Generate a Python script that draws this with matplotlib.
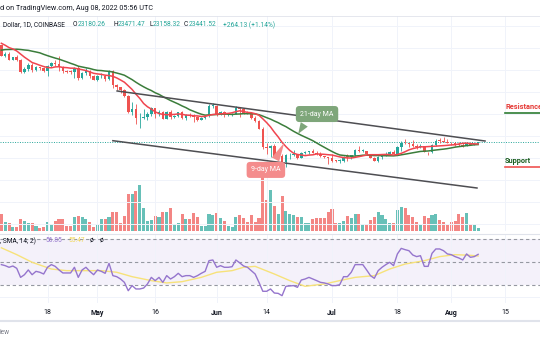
import matplotlib
matplotlib.use("Agg")
import matplotlib.pyplot as plt
import numpy as np
import pandas as pd

plt.rcParams['font.family'] = ['Roboto', 'DejaVu Sans']

W, H = 540, 340

# BTC/USD daily candles, thousands of USD. Day 0 = Apr 18 2022, first candle Apr 6, last Aug 8
history_closes = [39.28, 41.12, 40.92, 41.76, 42.20, 41.26, 41.00, 42.36, 42.89, 43.96, 44.33,
                  44.52, 46.82, 47.13, 47.45, 47.06, 45.53, 46.28, 45.81, 46.40, 46.58, 45.50]

opens = [45.50, 43.17, 43.44, 42.25, 42.75, 42.16, 39.53, 40.08, 41.15, 39.94, 40.55, 40.40, 39.70,
         40.80, 41.50, 41.37, 40.48, 39.71, 39.47, 39.45, 40.43, 38.12, 39.24, 39.74, 38.60,
         37.64, 38.47, 38.53, 37.75, 39.69, 36.55, 36.01, 35.47, 34.06, 30.30, 31.02, 28.94, 29.03,
         29.28, 29.86, 31.30, 29.86, 30.42, 28.72, 30.29, 29.20, 29.43, 30.28, 29.10, 29.65, 29.54,
         29.20, 28.62, 29.01, 29.45, 31.73,
         31.79, 29.80, 30.45, 29.70, 29.86, 29.90, 31.37, 31.13, 30.20, 30.11, 29.08, 28.42, 26.58,
         22.49, 22.14, 22.58, 20.38, 20.47, 19.01, 20.55, 20.57, 20.72, 19.97, 21.10, 21.23, 21.50,
         21.03, 20.73, 20.28, 20.10,
         19.93, 19.30, 19.25, 19.30, 20.23, 20.19, 20.55, 21.62, 21.59, 21.59, 20.85, 19.96, 19.33,
         20.20, 20.57, 20.83, 21.19, 20.78, 22.47, 23.39, 23.23, 23.16, 22.68, 22.45, 22.58, 21.31,
         21.25, 22.95, 23.85, 23.78, 23.64,
         23.30, 23.27, 22.99, 22.82, 22.62, 23.31, 22.96, 23.18026]

highs = [45.51, 43.90, 43.97, 42.80, 43.43, 42.42, 40.69, 41.56, 41.50, 40.86, 40.70, 40.60, 41.10,
         41.76, 42.20, 42.98, 40.80, 39.98, 39.93, 40.62, 40.80, 39.46, 40.37, 39.93, 38.80,
         38.68, 39.17, 38.63, 39.97, 39.84, 36.65, 36.13, 35.50, 34.24, 32.66, 32.19, 30.03, 31.08,
         30.34, 31.42, 31.31, 30.80, 30.70, 30.54, 30.77, 29.62, 30.45, 30.66, 29.84, 30.20, 29.86,
         29.38, 29.20, 29.55, 32.20, 32.38,
         31.96, 30.66, 30.68, 29.96, 30.15, 31.71, 31.55, 31.31, 30.68, 30.36, 29.45, 28.55, 26.90,
         23.35, 22.80, 22.98, 21.35, 20.76, 20.80, 21.09, 21.72, 20.86, 21.20, 21.53, 21.60, 21.86,
         21.52, 21.18, 20.42, 20.17,
         20.87, 19.43, 19.65, 20.30, 20.73, 20.66, 21.84, 22.53, 21.95, 21.60, 20.86, 20.04, 20.25,
         20.87, 21.19, 21.56, 21.65, 22.72, 23.75, 24.28, 23.41, 24.00, 23.00, 22.99, 22.66, 21.35,
         23.10, 24.20, 24.44, 24.65, 24.17,
         23.50, 23.46, 23.65, 23.22, 23.47, 23.35, 23.40, 23.47147]

lows = [43.12, 42.75, 42.12, 42.13, 41.87, 39.20, 39.25, 39.57, 39.55, 39.77, 40.02, 39.56, 38.54,
        40.57, 40.82, 39.75, 39.18, 39.30, 39.00, 38.20, 37.70, 37.88, 38.88, 38.20, 37.60,
        37.40, 38.06, 37.51, 37.70, 35.85, 35.26, 34.77, 33.71, 30.04, 29.73, 27.70, 26.70, 28.72,
        28.63, 29.48, 29.09, 29.44, 28.68, 28.67, 28.73, 28.95, 29.25, 28.85, 28.65, 29.31, 28.02,
        28.26, 28.57, 28.80, 29.30, 31.24,
        29.34, 29.58, 29.28, 29.48, 29.51, 29.88, 29.22, 29.86, 29.95, 28.87, 28.10, 26.56, 21.93,
        20.85, 20.11, 20.25, 20.34, 17.62, 17.94, 19.67, 20.35, 19.78, 19.89, 20.77, 20.93, 21.00,
        20.51, 20.20, 19.85, 18.64,
        18.97, 18.98, 18.78, 19.05, 19.30, 19.78, 20.25, 21.20, 21.31, 20.66, 19.88, 19.24, 18.91,
        19.63, 20.39, 20.48, 20.76, 20.76, 21.58, 23.02, 22.35, 22.52, 21.96, 22.28, 21.27, 20.70,
        21.04, 22.60, 23.42, 23.50, 23.23,
        22.85, 22.67, 22.70, 22.43, 22.59, 22.93, 22.85, 23.15832]

closes = [43.17, 43.44, 42.25, 42.75, 42.16, 39.53, 40.08, 41.15, 39.94, 40.55, 40.40, 39.70, 40.80,
          41.50, 41.37, 40.48, 39.71, 39.47, 39.45, 40.43, 38.12, 39.24, 39.74, 38.60, 37.64,
          38.47, 38.53, 37.75, 39.69, 36.55, 36.01, 35.47, 34.06, 30.30, 31.02, 28.94, 29.03, 29.28,
          29.86, 31.30, 29.86, 30.42, 28.72, 30.29, 29.20, 29.43, 30.28, 29.10, 29.65, 29.54, 29.20,
          28.62, 29.01, 29.45, 31.73, 31.79,
          29.80, 30.45, 29.70, 29.86, 29.90, 31.37, 31.13, 30.20, 30.11, 29.08, 28.42, 26.58, 22.49,
          22.14, 22.58, 20.38, 20.47, 19.01, 20.55, 20.57, 20.72, 19.97, 21.10, 21.23, 21.50, 21.03,
          20.73, 20.28, 20.10, 19.93,
          19.30, 19.25, 19.30, 20.23, 20.19, 20.55, 21.62, 21.59, 21.59, 20.85, 19.96, 19.33, 20.20,
          20.57, 20.83, 21.19, 20.78, 22.47, 23.39, 23.23, 23.16, 22.68, 22.45, 22.58, 21.31, 21.25,
          22.95, 23.85, 23.78, 23.64, 23.30,
          23.27, 22.99, 22.82, 22.62, 23.31, 22.96, 23.18, 23.44152]

volume = [16.7, 9, 8.3, 4, 4.3, 12, 9.7, 8, 8, 5, 3.3, 4,
          9, 7.3, 10.3, 12, 11.7, 5.3, 4.7, 14, 14.7, 14, 11.7, 9.3, 4.3,
          6, 12, 12, 14.3, 19.3, 19.3, 7.7, 15, 36.7, 36.7, 40.3, 46.3, 23, 10, 11.3, 15, 14.3,
          19.3, 19.3, 23, 7, 8.3, 16.7, 11.7, 12, 18, 14.3, 5.3, 4.7, 16.7, 15.7,
          18, 12.7, 10, 5, 4.3, 13.7, 15.7, 13, 9.3, 15.7, 9, 12.7, 60, 31.3, 41, 25.3, 17.3, 35,
          19.7, 16.7, 16.3, 14.3, 14.3, 8.3, 7.7, 12, 12.7, 12.7, 13.3, 18.7,
          22.3, 7.7, 8.3, 10, 15.3, 12.7, 16.7, 16.7, 6.7, 6.7, 10.7, 14.3, 18.7, 16.3, 12.3, 8.3,
          8, 21.3, 23.7, 22.7, 15.7, 13.7, 8.7, 6, 15, 13.3, 16, 17.3, 11.3, 9, 6,
          9.3, 10, 16.7, 14, 18, 6.7, 6, 2.7]

rsi = [48.0, 47.1, 45.7, 46.8, 44.8, 37.0, 39.3, 43.4, 39.3, 42.2, 41.4, 39.9,
       45.7, 48.0, 46.5, 43.4, 40.8, 40.8, 40.8, 45.7, 37.0, 43.4, 45.7, 42.2, 39.3,
       43.4, 42.2, 40.5, 49.1, 38.5, 37.6, 35.6, 32.7, 25.5, 29.9, 27.0, 27.0, 27.8, 31.3, 37.0,
       34.2, 37.0, 32.7, 38.5, 35.6, 37.6, 40.5, 37.6, 38.5, 38.5, 37.0, 38.5, 40.5, 42.2, 51.4, 52.0,
       45.7, 47.1, 45.7, 45.7, 46.2, 52.0, 49.5, 46.8, 45.7, 42.8, 39.9, 32.7, 25.0, 25.0, 27.0,
       23.5, 23.2, 21.2, 29.3, 29.6, 29.9, 28.4, 34.7, 35.6, 37.0, 35.6, 34.2, 32.7, 32.2, 31.3,
       29.9, 29.9, 30.7, 37.6, 37.6, 41.4, 48.0, 48.0, 48.0, 43.4, 38.5, 36.2, 42.8, 45.7, 48.0,
       50.0, 47.1, 57.2, 62.0, 60.9, 60.0, 56.3, 54.9, 55.7, 46.5, 46.5, 57.7, 61.5, 61.5, 60.0, 57.2,
       56.6, 54.9, 53.7, 52.0, 57.2, 54.3, 54.9, 56.85]

rsi_ma_days = [-12, -8, -4, 1, 5, 9, 14, 18, 22, 27, 31, 35, 40, 44, 48, 51, 54, 59, 63, 67, 72,
               76, 80, 85, 89, 93, 98, 102, 106, 110, 112]
rsi_ma = [62.5, 56.6, 50.0, 44.2, 42.8, 42.8, 42.8, 41.4, 37.6, 34.2, 32.2, 33.3, 37.0, 41.4, 42.8,
          45.7, 46.5, 39.9, 34.2, 29.3, 31.3, 34.2, 37.0, 38.5, 44.2, 48.5, 51.4, 54.9, 56.6, 56.0, 55.47]

days = np.arange(-12, 113)

# hand drawn channel (day, price)
upper_trend_days = [18.1, 113.8]
upper_trend_price = [35.14, 23.77]
lower_trend_days = [17.0, 111.7]
lower_trend_price = [23.84, 13.09]

resistance_level = 30.14
support_level = 17.86
label_day = 119.0

tick_days = [0, 13, 28, 44, 57, 74, 91, 105, 119]
tick_labels = ['18', 'May', '16', 'Jun', '14', 'Jul', '18', 'Aug', '15']
month_labels = {'May', 'Jun', 'Jul', 'Aug'}

UP = '#26a69a'
DOWN = '#ef5350'
DARK = '#131722'
GRID = '#f0f3fa'
SEP = '#e0e3eb'

XLIM = (-12.354, 128.09)


def fy(px):
    return 1 - px / H


fig = plt.figure(figsize=(W / 100, H / 100), dpi=100)
fig.patch.set_facecolor('white')

# volume pane (behind the price pane)
vax = fig.add_axes([0, fy(231), 1, (231 - 16) / H])
vax.set_zorder(1)
vax.set_xlim(XLIM)
vax.set_ylim(0, 215)
o = np.array(opens)
c = np.array(closes)
up = c >= o
colors = np.where(up, UP, DOWN)
vax.bar(days, volume, width=0.8, color=colors, alpha=0.7, linewidth=0)
vax.set_xticks(tick_days)
vax.grid(axis='x', color=GRID, lw=0.7)
vax.tick_params(length=0, labelbottom=False, labelleft=False)
for s in vax.spines.values():
    s.set_visible(False)

# price pane
ax = fig.add_axes([0, fy(232), 1, (232 - 16) / H])
ax.set_zorder(2)
ax.patch.set_visible(False)
ax.set_xlim(XLIM)
ax.set_ylim(3.09, 52.18)
ax.set_yticks(np.arange(5, 55, 5))
ax.set_xticks([])
ax.grid(axis='y', color=GRID, lw=0.7)
ax.tick_params(length=0, labelleft=False)
for s in ax.spines.values():
    s.set_visible(False)

ax.axhline(closes[-1], color=UP, lw=0.7, ls=(0, (1, 1.5)), zorder=2)

all_closes = pd.Series(history_closes + closes)
ma9 = all_closes.rolling(9).mean().to_numpy()[-len(closes):]
ma21 = all_closes.rolling(21).mean().to_numpy()[-len(closes):]
ax.plot(days, ma21, color='#3b7d3b', lw=1.1, zorder=5)
ax.plot(days, ma9, color='#f0454f', lw=1.1, zorder=5)

ax.vlines(days, lows, highs, colors=colors, lw=0.6, zorder=3)
body = np.maximum(np.abs(c - o), 0.12)
ax.bar(days, body, bottom=np.minimum(o, c), width=0.66, color=colors, linewidth=0, zorder=4)

ax.plot(upper_trend_days, upper_trend_price, color='#4e4e52', lw=1.1, zorder=6)
ax.plot(lower_trend_days, lower_trend_price, color='#4e4e52', lw=1.1, zorder=6)

# callouts
ax.annotate('21-day MA', xy=(65.2, 25.4), xytext=(70.1, 29.9), ha='center', va='center',
            fontsize=5, color='white', zorder=8,
            bbox=dict(boxstyle='round,pad=0.65,rounding_size=0.5', fc='#7ea67a', ec='none'),
            arrowprops=dict(arrowstyle='wedge,tail_width=1.2', fc='#7ea67a', ec='none',
                            relpos=(0.25, 0.0), shrinkB=0))
ax.annotate('9-day MA', xy=(61.6, 23.4), xytext=(56.8, 17.2), ha='center', va='center',
            fontsize=5, color='white', zorder=8,
            bbox=dict(boxstyle='round,pad=0.65,rounding_size=0.5', fc='#f48c8c', ec='none'),
            arrowprops=dict(arrowstyle='wedge,tail_width=1.2', fc='#f48c8c', ec='none',
                            relpos=(0.7, 1.0), shrinkB=0))

ax.plot([label_day, XLIM[1]], [resistance_level] * 2, color='#2e7d32', lw=1.2, zorder=6)
ax.annotate('Resistance', xy=(label_day, resistance_level), xytext=(0, 1.2),
            textcoords='offset points', va='bottom', fontsize=5.3, weight='bold',
            color='#e53935', annotation_clip=False)
ax.plot([label_day, XLIM[1]], [support_level] * 2, color='#ef5350', lw=1.2, zorder=6)
ax.annotate('Support', xy=(label_day, support_level), xytext=(0, 1.5),
            textcoords='offset points', va='bottom', fontsize=5.3, weight='bold',
            color='#1b5e20', annotation_clip=False)

# RSI pane
rax = fig.add_axes([0, fy(303), 1, (303 - 234) / H])
rax.set_xlim(XLIM)
rax.set_ylim(14.9, 74.4)
rax.axhspan(30, 70, color='#7e57c2', alpha=0.08, lw=0)
for lvl in (70, 50, 30):
    rax.axhline(lvl, color='#9598a1', lw=0.8, ls=(0, (3, 2.5)))
rax.axhline(20, color=GRID, lw=0.7)
rax.plot(rsi_ma_days, rsi_ma, color='#f7e27a', lw=1.0)
rax.plot(days, rsi, color='#9575cd', lw=1.0)
rax.set_yticks([])
rax.set_xticks(tick_days)
rax.set_xticklabels(tick_labels)
rax.grid(axis='x', color=GRID, lw=0.7)
rax.tick_params(axis='x', length=0, pad=4, labelsize=5, labelcolor=DARK)
for lab in rax.get_xticklabels():
    if lab.get_text() in month_labels:
        lab.set_fontweight('bold')
for s in rax.spines.values():
    s.set_visible(False)
rax.spines['top'].set_visible(True)
rax.spines['top'].set_color(SEP)
rax.spines['top'].set_linewidth(0.8)

# header + legends
fig.add_artist(plt.Line2D([0, 1], [fy(16), fy(16)], color=SEP, lw=0.6))
fig.add_artist(plt.Line2D([0, 1], [fy(321), fy(321)], color=SEP, lw=1.5))
fig.text(0, fy(9), 'd on TradingView.com, Aug 08, 2022 05:56 UTC', fontsize=5.2,
         color=DARK, va='center')
head = [(3, 'Dollar, 1D, COINBASE', DARK), (73, 'O', DARK), (78, '23180.26', UP),
        (113, 'H', DARK), (118, '23471.47', UP), (149, 'L', DARK), (153, '23158.32', UP),
        (184, 'C', DARK), (189, '23441.52', UP), (223, '+264.13 (+1.14%)', UP)]
for x, s, col in head:
    fig.text(x / W, fy(25), s, fontsize=4.8, color=col, va='center')
fig.text(1 / W, fy(55), ', 0)', fontsize=4.8, color=DARK, va='center', zorder=0)
fig.text(18 / W, fy(55), '22863.90', fontsize=4.8, color='#3b7d3b', va='center', zorder=0)
fig.text(3 / W, fy(65), '0)', fontsize=4.8, color=DARK, va='center', zorder=0)
fig.text(13 / W, fy(65), '23100.87', fontsize=4.8, color='#f0454f', va='center', zorder=0)
rsi_head = [(0, ', SMA, 14, 2)', DARK), (45, '56.85', '#9575cd'), (68, '55.47', '#f2d95c'),
            (90, 'ø', DARK), (100, 'ø', DARK)]
for x, s, col in rsi_head:
    fig.text(x / W, fy(241), s, fontsize=4.8, color=col, va='center')
fig.text(0, fy(332), 'iew', fontsize=4.8, color='#787b86', va='center')

fig.savefig('out.png', dpi=100)
